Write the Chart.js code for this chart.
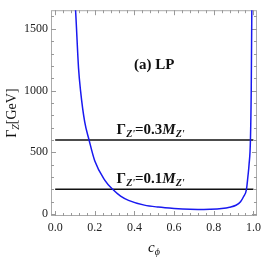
<!DOCTYPE html>
<html>
<head>
<meta charset="utf-8">
<script src="https://cdn.jsdelivr.net/npm/chart.js@4"></script>
<style>
  html, body { margin: 0; padding: 0; background: #fff; }
</style>
</head>
<body>
<canvas id="chart" width="266" height="266"></canvas>
<script>
// values
const cPhi = [0.094, 0.104, 0.118, 0.128, 0.149, 0.171, 0.20, 0.25, 0.29, 0.33, 0.37, 0.45, 0.52, 0.60, 0.68, 0.72, 0.78, 0.84, 0.88, 0.912, 0.935, 0.95, 0.965, 0.972, 0.978, 0.985, 0.989, 0.993];
const gammaLP = [1900, 1620, 1180, 1000, 746, 600, 430, 275, 200, 145, 111, 72, 56, 45, 38, 37, 39, 45, 55, 71, 100, 140, 200, 300, 400, 600, 1000, 1900];
const widthRatios = ["0.3", "0.1"];
const widthValues = [600, 200];
const lineSpan = [0, 1];
const xTicks = [0, 0.2, 0.4, 0.6, 0.8, 1.0];
const yTicks = [0, 500, 1000, 1500];

const SERIF = "'Liberation Serif', 'DejaVu Serif', serif";

function drawRich(ctx, parts, x, y) {
  let cx = x;
  for (const p of parts) {
    ctx.font = p.font;
    ctx.fillText(p.t, cx, y + (p.dy || 0));
    cx += ctx.measureText(p.t).width;
  }
  return cx - x;
}

function richWidth(ctx, parts) {
  let w = 0;
  for (const p of parts) {
    ctx.font = p.font;
    w += ctx.measureText(p.t).width;
  }
  return w;
}

// frame with inward ticks on all four sides, like the original
const framePlugin = {
  id: "frame",
  beforeDatasetsDraw(chart) {
    const { ctx, chartArea: a, scales } = chart;
    ctx.save();
    ctx.strokeStyle = "#aaa";
    ctx.lineWidth = 1;
    ctx.strokeRect(a.left + 0.5, a.top + 0.5, a.right - a.left - 1, a.bottom - a.top - 1);

    ctx.strokeStyle = "#999";
    ctx.beginPath();
    for (let v = 0; v <= 1.0001; v += 0.04) {
      const px = Math.round(scales.x.getPixelForValue(v)) + 0.5;
      const major = Math.abs(v * 5 - Math.round(v * 5)) < 1e-6;
      const len = major ? 5 : 3;
      ctx.moveTo(px, a.bottom); ctx.lineTo(px, a.bottom - len);
      ctx.moveTo(px, a.top); ctx.lineTo(px, a.top + len);
    }
    for (let v = 0; v <= 1600; v += 100) {
      const py = Math.round(scales.y.getPixelForValue(v)) + 0.5;
      const len = v % 500 === 0 ? 5 : 3;
      ctx.moveTo(a.left, py); ctx.lineTo(a.left + len, py);
      ctx.moveTo(a.right, py); ctx.lineTo(a.right - len, py);
    }
    ctx.stroke();
    ctx.restore();
  },
  afterDatasetsDraw(chart) {
    const { ctx, chartArea: a, scales } = chart;
    ctx.save();
    ctx.fillStyle = "#111";
    ctx.textBaseline = "alphabetic";

    // panel label
    ctx.font = "bold 15px " + SERIF;
    ctx.textAlign = "center";
    ctx.fillText("(a) LP", scales.x.getPixelForValue(0.5), 69);
    ctx.textAlign = "left";

    // width labels above the horizontal lines
    widthRatios.forEach((r, i) => {
      const parts = [
        { t: "Γ", font: "bold 15px " + SERIF },
        { t: "Z'", font: "italic bold 10px " + SERIF, dy: 3 },
        { t: "=" + r, font: "bold 15px " + SERIF },
        { t: "M", font: "italic bold 15px " + SERIF },
        { t: "Z'", font: "italic bold 10px " + SERIF, dy: 3 }
      ];
      drawRich(ctx, parts, scales.x.getPixelForValue(0.31), scales.y.getPixelForValue(widthValues[i]) - 6);
    });

    // y axis title
    const yParts = [
      { t: "Γ", font: "14px " + SERIF },
      { t: "Z", font: "italic 10px " + SERIF, dy: 3 },
      { t: "[GeV]", font: "14px " + SERIF }
    ];
    ctx.save();
    ctx.translate(16, (a.top + a.bottom) / 2);
    ctx.rotate(-Math.PI / 2);
    drawRich(ctx, yParts, -richWidth(ctx, yParts) / 2, 0);
    ctx.restore();

    // x axis title
    const xParts = [
      { t: "c", font: "italic 15px " + SERIF },
      { t: "ϕ", font: "italic 10px " + SERIF, dy: 3 }
    ];
    drawRich(ctx, xParts, (a.left + a.right) / 2 - richWidth(ctx, xParts) / 2, 252);
    ctx.restore();
  }
};

const curve = cPhi.map((c, i) => ({ x: c, y: gammaLP[i] }));
const lineDatasets = widthValues.map((w) => ({
  data: lineSpan.map((x) => ({ x: x, y: w })),
  borderColor: "#111",
  borderWidth: 1.5,
  pointRadius: 0
}));

new Chart(document.getElementById("chart"), {
  type: "line",
  data: {
    datasets: [
      {
        data: curve,
        borderColor: "rgb(25,25,240)",
        borderWidth: 1.5,
        pointRadius: 0,
        cubicInterpolationMode: "monotone"
      },
      ...lineDatasets
    ]
  },
  options: {
    responsive: false,
    animation: false,
    layout: { padding: { top: 6, right: 5, left: 0, bottom: 0 } },
    plugins: { legend: { display: false }, tooltip: { enabled: false } },
    scales: {
      x: {
        type: "linear",
        min: -0.021,
        max: 1.018,
        grid: { display: false, drawTicks: false },
        border: { display: false },
        afterFit: (s) => { s.height = 50; },
        afterBuildTicks: (s) => { s.ticks = xTicks.map((v) => ({ value: v })); },
        ticks: {
          padding: 5,
          color: "#222",
          font: { family: SERIF, size: 12 },
          callback: (v) => Number(v).toFixed(1)
        }
      },
      y: {
        type: "linear",
        min: -16,
        max: 1651,
        grid: { display: false, drawTicks: false },
        border: { display: false },
        afterFit: (s) => { s.width = 51; },
        afterBuildTicks: (s) => { s.ticks = yTicks.map((v) => ({ value: v })); },
        ticks: {
          padding: 3,
          color: "#222",
          font: { family: SERIF, size: 12 },
          callback: (v) => String(v)
        }
      }
    }
  },
  plugins: [framePlugin]
});
</script>
</body>
</html>
